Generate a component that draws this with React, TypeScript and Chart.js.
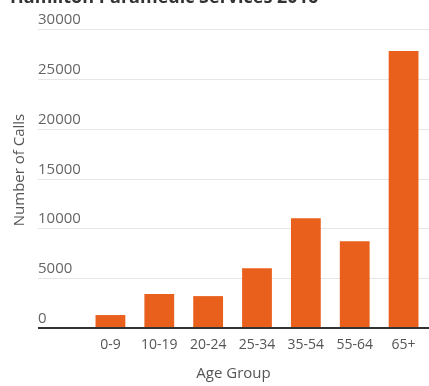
import React, { useEffect, useRef } from "react";
import { Chart, registerables } from "chart.js";

Chart.register(...registerables);

const TITLE = "Hamilton Paramedic Services 2016";
const categories = ["0-9", "10-19", "20-24", "25-34", "35-54", "55-64", "65+"];
const calls = [1300, 3400, 3200, 6000, 11000, 8700, 27800];
const yTicks = [0, 5000, 10000, 15000, 20000, 25000, 30000];
const yTitle = "Number of Calls";
const xTitle = "Age Group";

const FONT = "'Open Sans', 'DejaVu Sans', sans-serif";

const customAxis = {
  id: "customAxis",
  beforeDatasetsDraw(chart: any) {
    const { ctx, scales } = chart;
    const y = scales.y;
    const x0 = 38;
    const x1 = chart.width;
    ctx.save();
    yTicks.forEach((v) => {
      if (v === 0) return;
      const py = Math.round(y.getPixelForValue(v)) + 0.5;
      ctx.strokeStyle = "#e6e6e6";
      ctx.lineWidth = 1;
      ctx.beginPath();
      ctx.moveTo(x0, py);
      ctx.lineTo(x1, py);
      ctx.stroke();
    });
    ctx.fillStyle = "#666666";
    ctx.font = `15px ${FONT}`;
    ctx.textAlign = "left";
    ctx.textBaseline = "alphabetic";
    yTicks.forEach((v) => {
      const py = y.getPixelForValue(v);
      ctx.fillText(String(v), x0, py - 5);
    });
    ctx.save();
    ctx.translate(20, 170);
    ctx.rotate(-Math.PI / 2);
    ctx.textAlign = "center";
    ctx.textBaseline = "middle";
    ctx.fillStyle = "#555555";
    ctx.font = `15px ${FONT}`;
    ctx.fillText(yTitle, 0, 0);
    ctx.restore();
    ctx.fillStyle = "#555555";
    ctx.font = `15px ${FONT}`;
    ctx.textAlign = "center";
    ctx.textBaseline = "middle";
    ctx.fillText(xTitle, (x0 + x1) / 2, 374);
    ctx.fillStyle = "#333333";
    ctx.font = `bold 18px ${FONT}`;
    ctx.textAlign = "left";
    ctx.textBaseline = "alphabetic";
    ctx.fillText(TITLE, 10, 3);
    ctx.restore();
  },
  afterDatasetsDraw(chart: any) {
    const { ctx, scales } = chart;
    const py = scales.y.getPixelForValue(0);
    ctx.save();
    ctx.strokeStyle = "#333333";
    ctx.lineWidth = 2;
    ctx.beginPath();
    ctx.moveTo(38, py);
    ctx.lineTo(chart.width, py);
    ctx.stroke();
    ctx.restore();
  },
};

export default function App() {
  const ref = useRef<HTMLCanvasElement>(null);
  useEffect(() => {
    if (!ref.current) return;
    const chart = new Chart(ref.current, {
      type: "bar",
      data: {
        labels: categories,
        datasets: [
          {
            data: calls,
            backgroundColor: "#e8601c",
            borderWidth: 0,
            categoryPercentage: 1,
            barPercentage: 0.61,
          },
        ],
      },
      options: {
        animation: false,
        responsive: false,
        maintainAspectRatio: false,
        layout: { padding: { left: 86, right: 1, top: 29, bottom: 0 } },
        plugins: { legend: { display: false }, tooltip: { enabled: false }, title: { display: false } },
        scales: {
          y: { display: false, min: 0, max: 30000 },
          x: {
            grid: { display: false, drawTicks: false },
            border: { display: false },
            ticks: {
              color: "#555555",
              font: { family: FONT, size: 14 },
              padding: 9,
              maxRotation: 0,
              autoSkip: false,
            },
            afterFit: (scale: any) => {
              scale.height = 58;
            },
          },
        },
      },
      plugins: [customAxis],
    });
    return () => chart.destroy();
  }, []);
  return (
    <div style={{ position: "absolute", left: 0, top: 0, width: 429, height: 386, background: "#fff" }}>
      <canvas ref={ref} width={429} height={386} style={{ width: 429, height: 386 }} />
    </div>
  );
}
